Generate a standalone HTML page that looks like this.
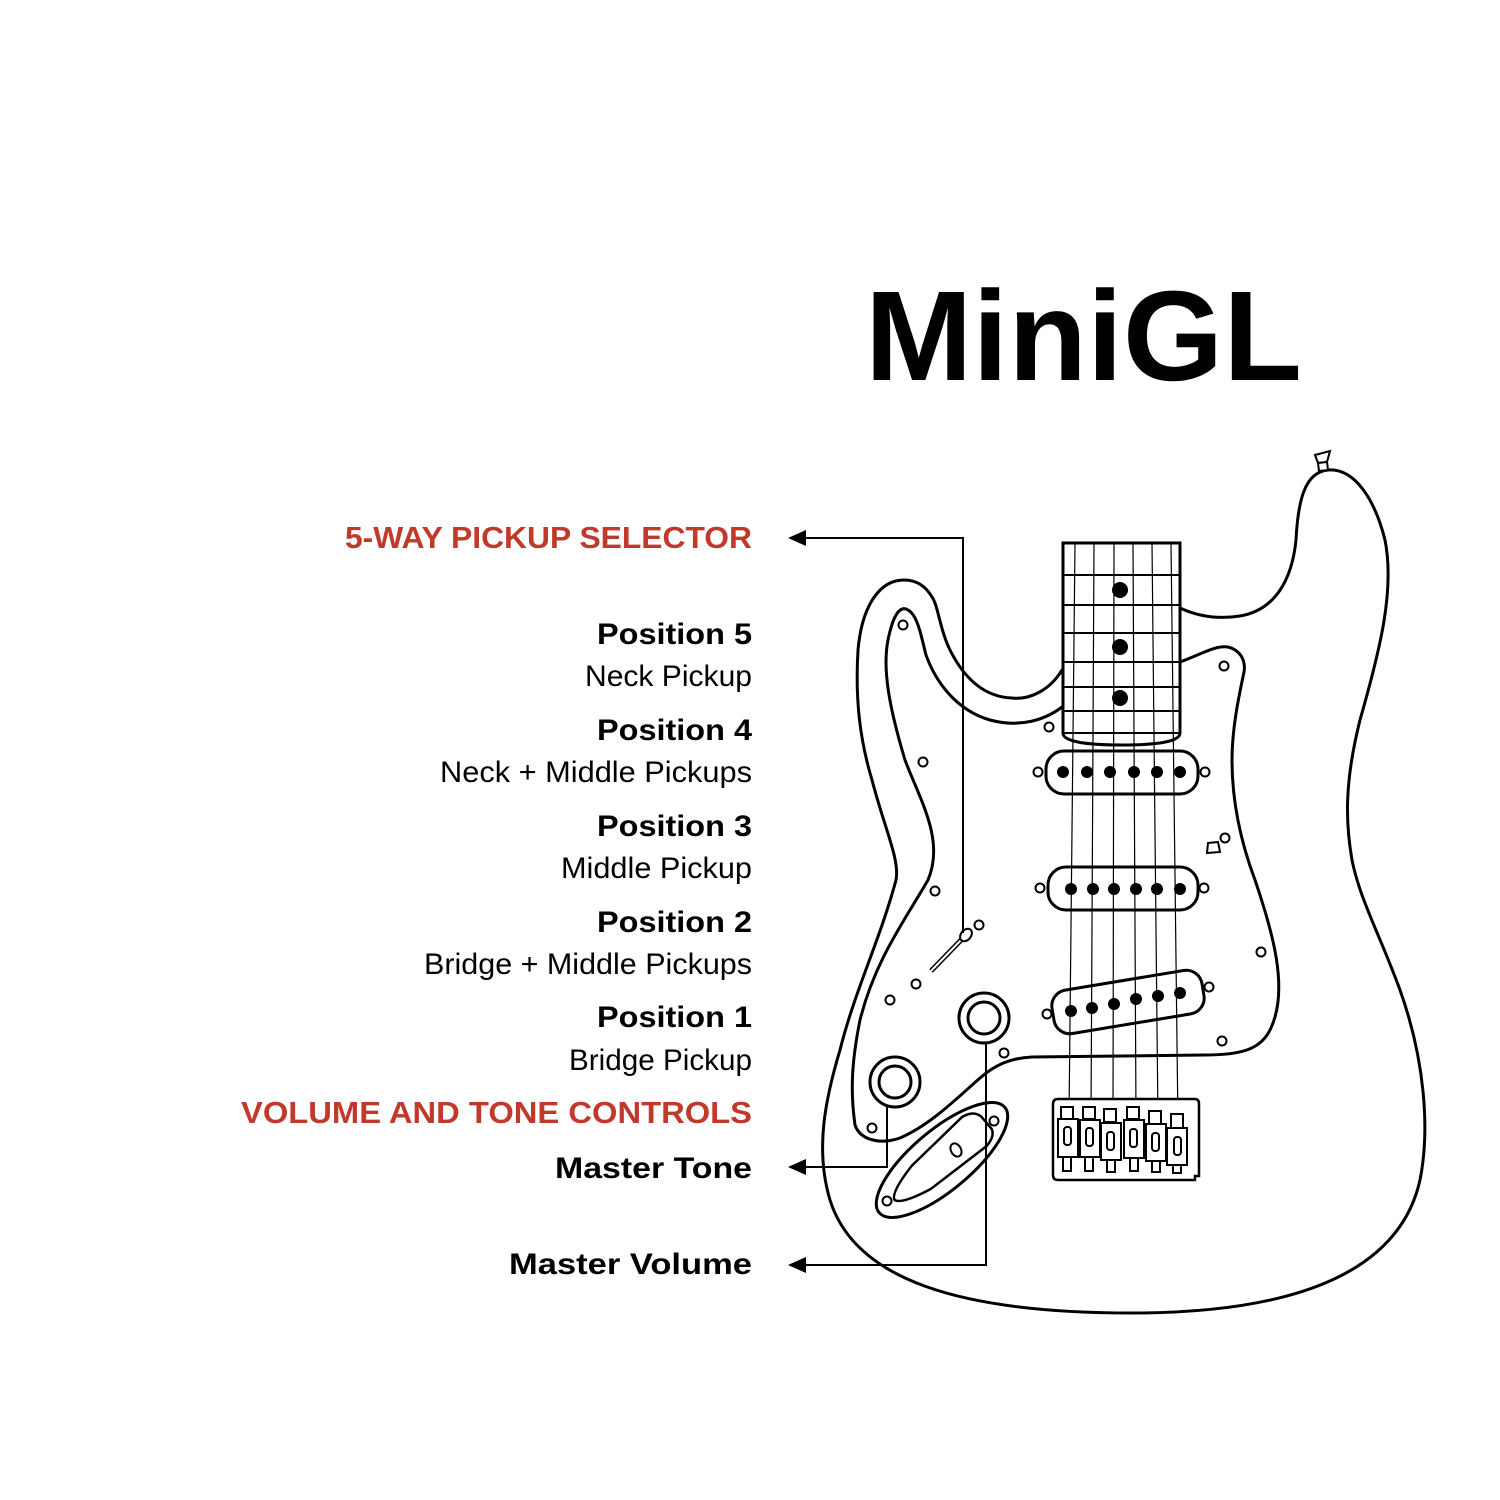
<!DOCTYPE html>
<html><head><meta charset="utf-8"><style>
html,body{margin:0;padding:0;background:#fff;}
svg{display:block;}
text{font-family:"Liberation Sans",sans-serif;}
.b{font-weight:bold;fill:#000;font-size:30px;}
.n{font-weight:normal;fill:#000;font-size:30px;}
.r{font-weight:bold;fill:#c0392b;font-size:31px;}
</style></head><body>
<svg width="1500" height="1500" viewBox="0 0 1500 1500" xmlns="http://www.w3.org/2000/svg">
<rect width="1500" height="1500" fill="#fff"/>
<text x="865" y="380" font-size="128" font-weight="bold" textLength="437" lengthAdjust="spacingAndGlyphs" style="font-family:'Liberation Sans',sans-serif">MiniGL</text>

<g text-anchor="end">
<text class="r" x="752" y="548" textLength="407" lengthAdjust="spacingAndGlyphs">5-WAY PICKUP SELECTOR</text>
<text class="b" x="752" y="644" textLength="155" lengthAdjust="spacingAndGlyphs">Position 5</text>
<text class="n" x="752" y="686" textLength="167" lengthAdjust="spacingAndGlyphs">Neck Pickup</text>
<text class="b" x="752" y="740" textLength="155" lengthAdjust="spacingAndGlyphs">Position 4</text>
<text class="n" x="752" y="782" textLength="312" lengthAdjust="spacingAndGlyphs">Neck + Middle Pickups</text>
<text class="b" x="752" y="836" textLength="155" lengthAdjust="spacingAndGlyphs">Position 3</text>
<text class="n" x="752" y="878" textLength="191" lengthAdjust="spacingAndGlyphs">Middle Pickup</text>
<text class="b" x="752" y="932" textLength="155" lengthAdjust="spacingAndGlyphs">Position 2</text>
<text class="n" x="752" y="974" textLength="328" lengthAdjust="spacingAndGlyphs">Bridge + Middle Pickups</text>
<text class="b" x="752" y="1027" textLength="155" lengthAdjust="spacingAndGlyphs">Position 1</text>
<text class="n" x="752" y="1070" textLength="183" lengthAdjust="spacingAndGlyphs">Bridge Pickup</text>
<text class="r" x="752" y="1123" textLength="511" lengthAdjust="spacingAndGlyphs">VOLUME AND TONE CONTROLS</text>
<text class="b" x="752" y="1178" textLength="197" lengthAdjust="spacingAndGlyphs">Master Tone</text>
<text class="b" x="752" y="1274" textLength="243" lengthAdjust="spacingAndGlyphs">Master Volume</text>
</g>

<g fill="none" stroke="#000" stroke-width="3" stroke-linejoin="round" stroke-linecap="round">
<path d="M1062,670 C1050,690 1030,700 1012,698 C985,697 965,680 950,650 C940,630 938,605 932,597 C925,585 915,580 904,580 C880,580 862,605 858,650 C855,700 860,740 872,780 C885,830 900,860 896,880 C880,940 855,990 840,1050 C825,1100 815,1150 830,1200 C855,1280 960,1313 1132,1313 C1300,1313 1400,1270 1420,1180 C1430,1130 1425,1060 1400,990 C1380,935 1360,900 1352,860 C1345,820 1345,780 1360,720 C1380,650 1395,590 1385,540 C1375,500 1355,468 1328,470 C1305,472 1298,500 1296,540 C1292,580 1275,610 1240,616 C1215,620 1195,615 1180,608"/>
<path d="M1180,662 C1200,655 1215,645 1228,647 C1240,650 1246,660 1244,672 C1238,700 1232,730 1232,760 C1232,800 1240,840 1255,880 C1272,930 1290,990 1270,1030 C1260,1050 1240,1055 1204,1055 L1032,1057 C1010,1058 995,1065 980,1078 C955,1100 930,1125 900,1138 C880,1145 860,1140 855,1125 C850,1090 852,1060 860,1020 C875,960 905,920 928,880 C945,840 920,800 905,760 C890,710 882,670 888,640 C893,615 900,605 908,610 C918,615 922,640 926,655 C935,680 955,710 990,720 C1020,728 1045,720 1062,707"/>
</g>

<g stroke="#000" fill="#fff">
<path d="M1063,543 L1180,543 L1180,733 Q1180,745 1122,745 Q1063,745 1063,733 Z" stroke-width="3"/>
<g stroke-width="2">
<line x1="1063" y1="575" x2="1180" y2="575"/><line x1="1063" y1="605" x2="1180" y2="605"/>
<line x1="1063" y1="633" x2="1180" y2="633"/><line x1="1063" y1="662" x2="1180" y2="662"/>
<line x1="1063" y1="687" x2="1180" y2="687"/><line x1="1063" y1="711" x2="1180" y2="711"/>
<line x1="1063" y1="733" x2="1180" y2="733"/>
</g>
</g>
<g fill="#000"><ellipse cx="1120" cy="590" rx="8" ry="8"/><ellipse cx="1120" cy="647" rx="8" ry="8"/><ellipse cx="1120" cy="698" rx="8" ry="8"/></g>

<g stroke="#000" stroke-width="3" fill="#fff">
<rect x="1046" y="751" width="152" height="43" rx="18"/>
<rect x="1048" y="867" width="150" height="43" rx="18"/>
<g transform="rotate(-9.4 1128 1002)"><rect x="1052" y="980" width="152" height="44" rx="16"/></g>
</g>
<g stroke="#000" stroke-width="1.2">
<line x1="1075" y1="543" x2="1069" y2="1118"/><line x1="1094" y1="543" x2="1091" y2="1118"/>
<line x1="1114" y1="543" x2="1113" y2="1120"/><line x1="1133" y1="543" x2="1136" y2="1118"/>
<line x1="1152" y1="543" x2="1158" y2="1122"/><line x1="1171" y1="543" x2="1178" y2="1126"/>
</g>
<g fill="#000">
<circle cx="1063" cy="772" r="6"/><circle cx="1087" cy="772" r="6"/><circle cx="1110" cy="772" r="6"/><circle cx="1134" cy="772" r="6"/><circle cx="1157" cy="772" r="6"/><circle cx="1180" cy="772" r="6"/>
<circle cx="1071" cy="889" r="6"/><circle cx="1093" cy="889" r="6"/><circle cx="1114" cy="889" r="6"/><circle cx="1136" cy="889" r="6"/><circle cx="1157" cy="889" r="6"/><circle cx="1180" cy="889" r="6"/>
<circle cx="1071" cy="1011" r="6"/><circle cx="1092" cy="1008" r="6"/><circle cx="1114" cy="1004" r="6"/><circle cx="1136" cy="999" r="6"/><circle cx="1158" cy="996" r="6"/><circle cx="1180" cy="993" r="6"/>
</g>

<g stroke="#000" stroke-width="2.5" fill="#fff">
<path d="M1058,1099 L1195,1099 Q1199,1099 1199,1104 L1199,1176 L1195,1176 L1195,1180 L1058,1180 Q1053,1180 1053,1175 L1053,1104 Q1053,1099 1058,1099 Z"/>
<g stroke-width="2">
<rect x="1061" y="1107" width="12" height="12"/><rect x="1083" y="1107" width="12" height="12"/><rect x="1104" y="1109" width="12" height="13"/><rect x="1127" y="1107" width="12" height="12"/><rect x="1149" y="1111" width="12" height="13"/><rect x="1171" y="1114" width="12" height="14"/>
<rect x="1058" y="1119" width="20" height="38"/><rect x="1080" y="1120" width="20" height="37"/><rect x="1101" y="1123" width="20" height="37"/><rect x="1124" y="1120" width="20" height="38"/><rect x="1146" y="1124" width="20" height="37"/><rect x="1167" y="1128" width="20" height="37"/>
<rect x="1064" y="1127" width="7" height="18" rx="3"/><rect x="1086" y="1128" width="7" height="18" rx="3"/><rect x="1107" y="1132" width="7" height="18" rx="3"/><rect x="1130" y="1129" width="7" height="18" rx="3"/><rect x="1152" y="1133" width="7" height="18" rx="3"/><rect x="1174" y="1137" width="7" height="18" rx="3"/>
<rect x="1063" y="1157" width="8" height="14"/><rect x="1085" y="1157" width="8" height="14"/><rect x="1107" y="1160" width="8" height="12"/><rect x="1130" y="1158" width="8" height="13"/><rect x="1152" y="1161" width="8" height="11"/><rect x="1173" y="1165" width="8" height="8"/>
</g>
</g>

<g stroke="#000" stroke-width="3" fill="#fff">
<circle cx="984" cy="1018" r="25"/><circle cx="984" cy="1018" r="16"/>
<circle cx="895" cy="1082" r="25"/><circle cx="895" cy="1082" r="16"/>
<g transform="rotate(-40 942 1160)"><ellipse cx="942" cy="1160" rx="82" ry="30"/>
<path d="M880,1160 Q882,1152 915,1145 L985,1140 Q998,1142 1000,1152 L1000,1168 Q998,1176 985,1178 L915,1175 Q882,1168 880,1160 Z" stroke-width="2.5"/></g>
<ellipse cx="956" cy="1150" rx="5" ry="7" stroke-width="2" transform="rotate(-30 956 1150)"/>
</g>

<g stroke="#000" fill="#fff">
<line x1="931" y1="971" x2="963" y2="938" stroke-width="5"/>
<line x1="931" y1="971" x2="963" y2="938" stroke="#fff" stroke-width="2"/>
<ellipse cx="966" cy="935" rx="5" ry="7" transform="rotate(40 966 935)" stroke-width="2"/>
</g>

<g stroke="#000" stroke-width="2" fill="#fff">
<circle cx="903" cy="625" r="4.5"/><circle cx="1224" cy="666" r="4.5"/><circle cx="1049" cy="727" r="4.5"/><circle cx="923" cy="762" r="4.5"/><circle cx="1225" cy="838" r="4.5"/><circle cx="935" cy="891" r="4.5"/><circle cx="979" cy="925" r="4.5"/><circle cx="916" cy="984" r="4.5"/><circle cx="890" cy="1000" r="4.5"/><circle cx="1261" cy="952" r="4.5"/><circle cx="1004" cy="1053" r="4.5"/><circle cx="1222" cy="1041" r="4.5"/><circle cx="872" cy="1128" r="4.5"/><circle cx="994" cy="1121" r="4.5"/><circle cx="887" cy="1201" r="4.5"/>
<circle cx="1038" cy="772" r="4.5"/><circle cx="1205" cy="772" r="4.5"/><circle cx="1040" cy="888" r="4.5"/><circle cx="1204" cy="888" r="4.5"/><circle cx="1047" cy="1014" r="4.5"/><circle cx="1209" cy="987" r="4.5"/>
<path d="M1208,843 L1218,842 L1220,852 L1207,853 Z"/>
<path d="M1315,455 L1330,451 L1327,462 L1318,463 Z"/><path d="M1318,463 L1327,462 L1328,470 L1319,471 Z"/>
</g>

<g stroke="#000" stroke-width="2" fill="none">
<polyline points="800,538 963,538 963,933"/>
<polyline points="800,1167 887,1167 887,1107"/>
<polyline points="800,1265 986,1265 986,1043"/>
</g>
<g fill="#000">
<polygon points="788,538 806,530 806,546"/>
<polygon points="788,1167 806,1159 806,1175"/>
<polygon points="788,1265 806,1257 806,1273"/>
</g>
</svg>
</body></html>
